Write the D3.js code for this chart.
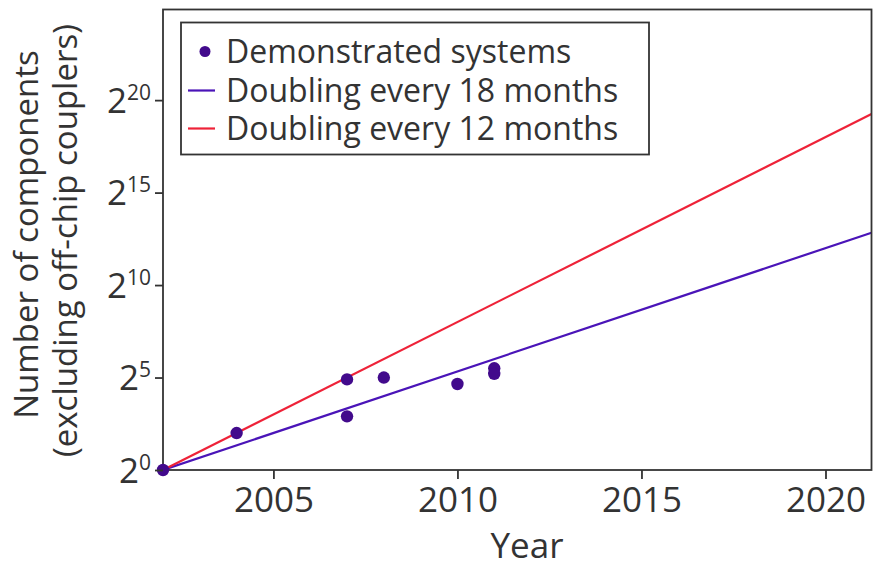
<!DOCTYPE html>
<html>
<head>
<meta charset="utf-8">
<script src="https://cdn.jsdelivr.net/npm/d3@7"></script>
<style>
  body { margin: 0; background: #fff; }
  svg text { font-family: "Open Sans", sans-serif; fill: #333; }
</style>
</head>
<body>
<div id="chart"></div>
<script>
// Demonstrated systems (year, log2 of component count)
const pointYears = [2002, 2004, 2007, 2007, 2008, 2010, 2011, 2011];
const pointExps = [0, 2, 4.9, 2.9, 5.0, 4.65, 5.5, 5.2];

// Trend lines, end points (log2 of component count)
const lineYears = [2002, 2021.25];
const line18 = [0, 12.83];
const line12 = [0, 19.25];

const xTicks = [2005, 2010, 2015, 2020];
const yTicks = [0, 5, 10, 15, 20];

const legendLabels = ["Demonstrated systems", "Doubling every 18 months", "Doubling every 12 months"];

const dotColor = "#420a8c";
const blueColor = "#4a14b8";
const redColor = "#ee2238";

const W = 873, H = 567;
const margin = { top: 9.5, right: 1.5, bottom: 97, left: 163 };
const width = W - margin.left - margin.right;
const height = H - margin.top - margin.bottom;

const svg = d3.select("#chart")
    .append("svg")
    .attr("width", W)
    .attr("height", H)
    .append("g")
    .attr("transform", `translate(${margin.left},${margin.top})`);

const x = d3.scaleLinear().domain([2002, 2021.25]).range([0, width]);
const y = d3.scaleLinear().domain([0, 24.9]).range([height, 0]);

svg.append("clipPath").attr("id", "plot-clip")
    .append("rect").attr("width", width).attr("height", height);

// trend lines
const line = d3.line()
    .x(d => x(d[0]))
    .y(d => y(d[1]));

const plot = svg.append("g").attr("clip-path", "url(#plot-clip)");

plot.append("path")
    .datum(d3.zip(lineYears, line18))
    .attr("fill", "none")
    .attr("stroke", blueColor)
    .attr("stroke-width", 2.2)
    .attr("d", line);

plot.append("path")
    .datum(d3.zip(lineYears, line12))
    .attr("fill", "none")
    .attr("stroke", redColor)
    .attr("stroke-width", 2.2)
    .attr("d", line);

// frame
svg.append("rect")
    .attr("width", width)
    .attr("height", height)
    .attr("fill", "none")
    .attr("stroke", "#333")
    .attr("stroke-width", 1.8);

// points
svg.selectAll("circle.pt")
    .data(d3.zip(pointYears, pointExps))
    .enter().append("circle")
    .attr("class", "pt")
    .attr("cx", d => x(d[0]))
    .attr("cy", d => y(d[1]))
    .attr("r", 6.2)
    .attr("fill", dotColor);

// x axis
const xAxis = svg.append("g")
    .attr("transform", `translate(0,${height})`)
    .call(d3.axisBottom(x).tickValues(xTicks).tickFormat(d3.format("d")).tickSize(9).tickSizeOuter(0).tickPadding(8));
xAxis.select(".domain").remove();
xAxis.selectAll("line").attr("stroke", "#333").attr("stroke-width", 1.8);
xAxis.selectAll("text")
    .style("font-size", "35px")
    .style("font-family", "'Open Sans', sans-serif")
    .attr("fill", "#333");

// y axis
const yAxis = svg.append("g")
    .call(d3.axisLeft(y).tickValues(yTicks).tickSize(8).tickSizeOuter(0).tickFormat(""));
yAxis.select(".domain").remove();
yAxis.selectAll("line").attr("stroke", "#333").attr("stroke-width", 1.8);

yAxis.selectAll(".tick").append("text")
    .attr("x", -12)
    .attr("y", 12)
    .attr("text-anchor", "end")
    .attr("fill", "#333")
    .style("font-size", "35px")
    .style("font-family", "'Open Sans', sans-serif")
    .each(function (d) {
        const t = d3.select(this);
        t.append("tspan").text("2");
        t.append("tspan").attr("dy", -13).style("font-size", "21px").text(d);
    });

// axis titles
svg.append("text")
    .attr("x", 364)
    .attr("y", height + 88)
    .attr("text-anchor", "middle")
    .style("font-size", "35px")
    .text("Year");

svg.append("text")
    .attr("transform", "rotate(-90)")
    .attr("x", -225)
    .attr("y", -125)
    .attr("text-anchor", "middle")
    .style("font-size", "33px")
    .text("Number of components");

svg.append("text")
    .attr("transform", "rotate(-90)")
    .attr("x", -231)
    .attr("y", -86)
    .attr("text-anchor", "middle")
    .style("font-size", "33px")
    .text("(excluding off-chip couplers)");

// legend
const legend = svg.append("g").attr("transform", "translate(18,13)");
legend.append("rect")
    .attr("width", 468)
    .attr("height", 132)
    .attr("fill", "#fff")
    .attr("stroke", "#333")
    .attr("stroke-width", 1.8);

const rowY = [29, 68, 106];
legend.append("circle")
    .attr("cx", 24).attr("cy", rowY[0]).attr("r", 5.5).attr("fill", dotColor);
legend.append("line")
    .attr("x1", 7).attr("x2", 34).attr("y1", rowY[1]).attr("y2", rowY[1])
    .attr("stroke", blueColor).attr("stroke-width", 2.2);
legend.append("line")
    .attr("x1", 7).attr("x2", 34).attr("y1", rowY[2]).attr("y2", rowY[2])
    .attr("stroke", redColor).attr("stroke-width", 2.2);

legend.selectAll("text.lab")
    .data(legendLabels)
    .enter().append("text")
    .attr("class", "lab")
    .attr("x", 45)
    .attr("y", (d, i) => rowY[i] + 11)
    .style("font-size", "32px")
    .text(d => d);
</script>
</body>
</html>
